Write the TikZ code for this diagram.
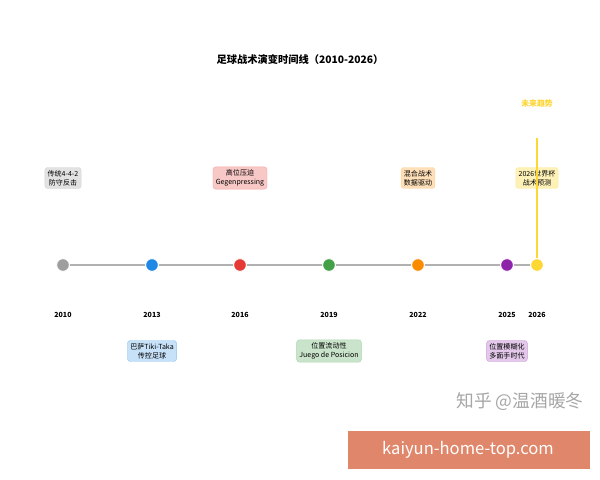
\documentclass[tikz,border=0pt]{standalone}
\usepackage{fontspec}
\setmainfont{Noto Sans CJK SC}
\usetikzlibrary{positioning}

\definecolor{cgray}{HTML}{9E9E9E}
\definecolor{cblue}{HTML}{1E88E5}
\definecolor{cred}{HTML}{E53935}
\definecolor{cgreen}{HTML}{43A047}
\definecolor{corange}{HTML}{FB8C00}
\definecolor{cpurple}{HTML}{8E24AA}
\definecolor{cyellow}{HTML}{FDD835}
\definecolor{banner}{HTML}{E0866A}

\tikzset{
	dot/.style={circle, draw=white, line width=0.6pt, minimum size=9pt, inner sep=0pt},
	year/.style={font=\fontsize{5}{5}\selectfont\bfseries},
	tag/.style={rounded corners=2pt, align=center, inner sep=2pt, line width=0.3pt,
		font=\fontsize{5}{6.3}\selectfont}
}

\begin{document}
\begin{tikzpicture}[x=0.025cm, y=-0.025cm]
	\useasboundingbox (0,0) rectangle (600,480);
	
	\node[font=\fontsize{7.3}{8}\selectfont\bfseries] (title) at (300,60) {足球战术演变时间线（2010-2026）};
	
	\node[dot, fill=cgray] (d2010) at (63,265) {};
	\node[dot, fill=cblue] (d2013) at (152,265) {};
	\node[dot, fill=cred] (d2016) at (240,265) {};
	\node[dot, fill=cgreen] (d2019) at (329,265) {};
	\node[dot, fill=corange] (d2022) at (418,265) {};
	\node[dot, fill=cpurple] (d2025) at (507,265) {};
	\node[dot, fill=cyellow] (d2026) at (537,265) {};
	
	\draw[cgray!80, line width=0.8pt] (d2010) -- (d2013) -- (d2016) -- (d2019) -- (d2022) -- (d2025) -- (d2026);
	
	\foreach \y in {2010,2013,2016,2019,2022,2025,2026}
		\node[year] (y\y) at (d\y |- 0,315) {\y};
	
	\node[tag, fill=cgray!30, draw=cgray!45] (t2010) at (d2010 |- 0,178) {传统4-4-2\\防守反击};
	\node[tag, fill=cred!28, draw=cred!45] (t2016) at (d2016 |- 0,178) {高位压迫\\Gegenpressing};
	\node[tag, fill=corange!28, draw=corange!40] (t2022) at (d2022 |- 0,178) {混合战术\\数据驱动};
	\node[tag, fill=cyellow!35, draw=cyellow!55] (t2026) at (d2026 |- 0,178) {2026世界杯\\战术预测};
	\node[tag, fill=cblue!25, draw=cblue!50] (t2013) at (d2013 |- 0,351) {巴萨Tiki-Taka\\传控足球};
	\node[tag, fill=cgreen!28, draw=cgreen!45] (t2019) at (d2019 |- 0,351) {位置流动性\\Juego de Posicion};
	\node[tag, fill=cpurple!25, draw=cpurple!45] (t2025) at (d2025 |- 0,351) {位置模糊化\\多面手时代};
	
	% trend line
	\coordinate (ftop) at (537,138);
	\draw[cyellow, line width=1pt] (ftop) -- (d2026.north);
	\node[text=cyellow!95!orange, font=\fontsize{5.6}{6}\selectfont\bfseries] (trend) at (537,104) {未来趋势};
	
	% watermark and banner
	\node[text=black!35, font=\fontsize{12.6}{13}\selectfont] (mark) at (520,402) {知乎 @温酒暖冬};
	\fill[banner] (348,431) rectangle (590,469);
	\node[text=white, font=\fontsize{11.8}{12}\selectfont] (site) at (468,450) {kaiyun-home-top.com};
\end{tikzpicture}
\end{document}
